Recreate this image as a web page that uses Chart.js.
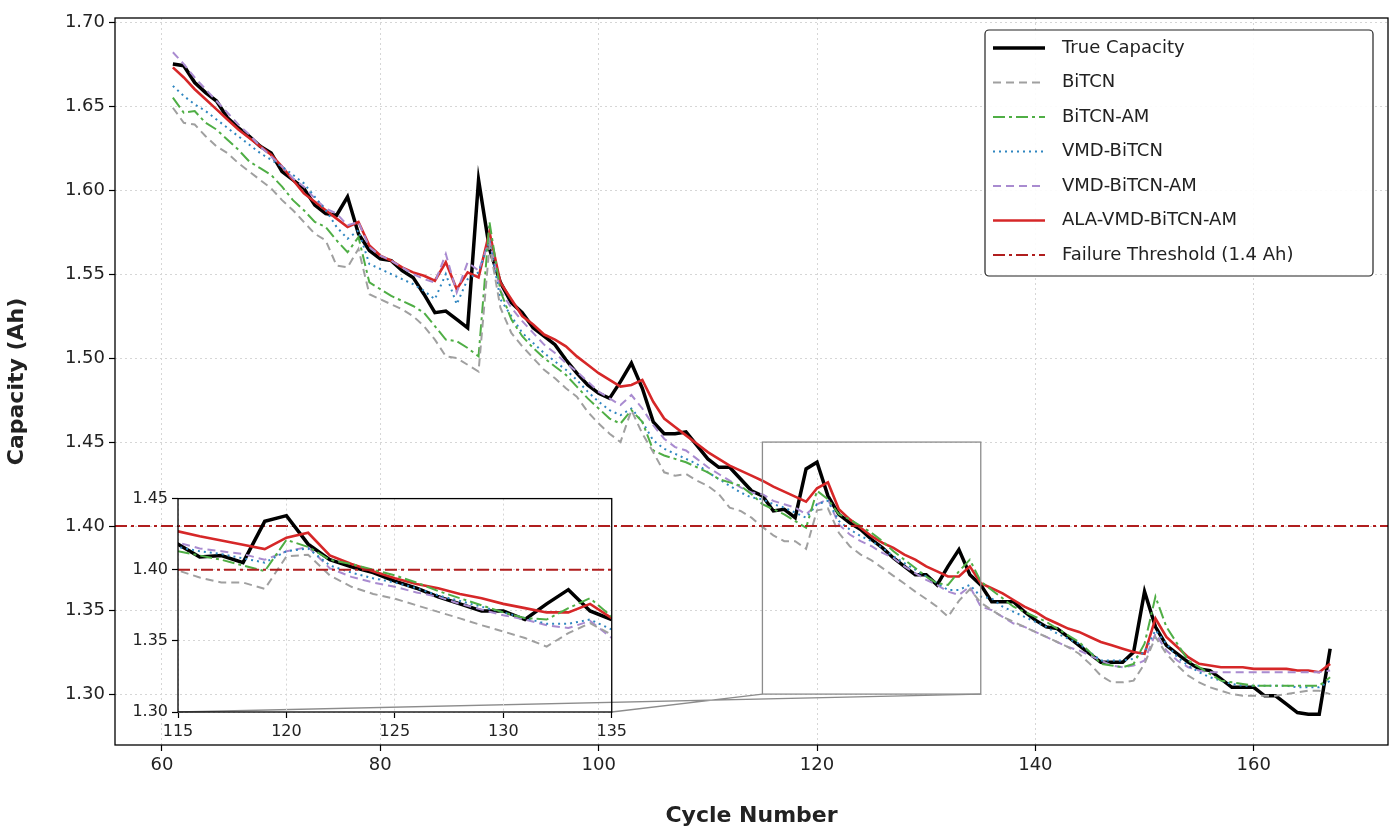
<!DOCTYPE html>
<html>
<head>
<meta charset="utf-8">
<script src="https://cdn.jsdelivr.net/npm/chart.js@4.4.0/dist/chart.umd.min.js"></script>
<style>
  body { margin: 0; background: #fff; }
  #wrap { position: relative; width: 1400px; height: 833px; }
  #mainBox { position: absolute; left: 0; top: 0; width: 1400px; height: 833px; }
  #insetBox { position: absolute; left: 120px; top: 485px; width: 511px; height: 257px; }
</style>
</head>
<body>
<div id="wrap">
  <div id="mainBox"><canvas id="mainChart"></canvas></div>
  <div id="insetBox"><canvas id="insetChart"></canvas></div>
</div>
<script>
// cycle numbers
const cycles = [
  61, 62, 63, 64, 65, 66, 67, 68, 69, 70, 71, 72, 73, 74, 75, 76, 77, 78, 79, 80,
  81, 82, 83, 84, 85, 86, 87, 88, 89, 90, 91, 92, 93, 94, 95, 96, 97, 98, 99, 100,
  101, 102, 103, 104, 105, 106, 107, 108, 109, 110, 111, 112, 113, 114, 115, 116, 117, 118, 119, 120,
  121, 122, 123, 124, 125, 126, 127, 128, 129, 130, 131, 132, 133, 134, 135, 136, 137, 138, 139, 140,
  141, 142, 143, 144, 145, 146, 147, 148, 149, 150, 151, 152, 153, 154, 155, 156, 157, 158, 159, 160,
  161, 162, 163, 164, 165, 166, 167
];

const trueCap = [
  1.675, 1.674, 1.664, 1.658, 1.653, 1.643, 1.637, 1.632, 1.626, 1.622, 1.611, 1.606, 1.601, 1.591, 1.586, 1.585, 1.596, 1.574, 1.564, 1.559,
  1.558, 1.552, 1.548, 1.538, 1.527, 1.528, 1.523, 1.518, 1.606, 1.565, 1.545, 1.533, 1.527, 1.518, 1.513, 1.508, 1.499, 1.491, 1.484, 1.479,
  1.476, 1.486, 1.497, 1.482, 1.462, 1.455, 1.455, 1.456, 1.448, 1.440, 1.435, 1.435, 1.428, 1.421, 1.418, 1.409, 1.410, 1.405, 1.434, 1.438,
  1.418, 1.407, 1.402, 1.398, 1.392, 1.387, 1.381, 1.376, 1.371, 1.371, 1.365, 1.376, 1.386, 1.371, 1.365, 1.355, 1.355, 1.355, 1.349, 1.344,
  1.340, 1.339, 1.334, 1.329, 1.324, 1.319, 1.319, 1.319, 1.325, 1.361, 1.340, 1.329, 1.324, 1.319, 1.315, 1.314, 1.309, 1.304, 1.304, 1.304,
  1.299, 1.299, 1.294, 1.289, 1.288, 1.288, 1.327
];

const bitcn = [
  1.649, 1.640, 1.639, 1.632, 1.626, 1.622, 1.616, 1.611, 1.606, 1.601, 1.594, 1.588, 1.581, 1.574, 1.570, 1.555, 1.554, 1.565, 1.538, 1.535,
  1.532, 1.529, 1.525, 1.519, 1.511, 1.501, 1.500, 1.496, 1.492, 1.567, 1.530, 1.515, 1.507, 1.500, 1.493, 1.488, 1.482, 1.477, 1.468, 1.461,
  1.455, 1.450, 1.469, 1.455, 1.444, 1.432, 1.430, 1.431, 1.427, 1.424, 1.419, 1.411, 1.409, 1.405, 1.3995, 1.3945, 1.391, 1.391, 1.3865, 1.4094,
  1.4105, 1.396, 1.388, 1.383, 1.3796, 1.375, 1.3704, 1.3658, 1.361, 1.3566, 1.352, 1.346, 1.3555, 1.3624, 1.3544, 1.350, 1.346, 1.343, 1.340, 1.337,
  1.334, 1.331, 1.328, 1.324, 1.318, 1.311, 1.307, 1.307, 1.308, 1.318, 1.334, 1.324, 1.317, 1.311, 1.307, 1.304, 1.302, 1.300, 1.299, 1.299,
  1.299, 1.299, 1.300, 1.301, 1.302, 1.302, 1.300
];

const bitcnAm = [
  1.655, 1.646, 1.647, 1.640, 1.636, 1.630, 1.624, 1.617, 1.613, 1.609, 1.602, 1.594, 1.588, 1.581, 1.578, 1.570, 1.563, 1.572, 1.545, 1.541,
  1.537, 1.534, 1.531, 1.527, 1.519, 1.511, 1.510, 1.506, 1.501, 1.581, 1.540, 1.523, 1.513, 1.506, 1.500, 1.495, 1.490, 1.483, 1.476, 1.470,
  1.464, 1.461, 1.469, 1.462, 1.445, 1.442, 1.440, 1.438, 1.435, 1.432, 1.428, 1.426, 1.424, 1.419, 1.413, 1.410, 1.407, 1.403, 1.399, 1.421,
  1.416, 1.407, 1.404, 1.400, 1.396, 1.391, 1.385, 1.380, 1.375, 1.370, 1.366, 1.365, 1.373, 1.380, 1.367, 1.362, 1.357, 1.352, 1.349, 1.346,
  1.343, 1.339, 1.335, 1.331, 1.325, 1.318, 1.317, 1.316, 1.318, 1.330, 1.358, 1.340, 1.330, 1.320, 1.316, 1.312, 1.308, 1.307, 1.306, 1.305,
  1.305, 1.305, 1.305, 1.305, 1.305, 1.305, 1.310
];

const vmdBitcn = [
  1.662, 1.656, 1.651, 1.647, 1.642, 1.637, 1.632, 1.627, 1.622, 1.618, 1.614, 1.609, 1.604, 1.596, 1.588, 1.578, 1.571, 1.576, 1.556, 1.553,
  1.550, 1.547, 1.544, 1.540, 1.535, 1.550, 1.532, 1.547, 1.551, 1.570, 1.535, 1.525, 1.515, 1.509, 1.503, 1.498, 1.493, 1.487, 1.480, 1.474,
  1.469, 1.466, 1.470, 1.462, 1.451, 1.446, 1.443, 1.440, 1.437, 1.432, 1.428, 1.424, 1.420, 1.417, 1.416, 1.413, 1.411, 1.408, 1.405, 1.413,
  1.415, 1.403, 1.398, 1.394, 1.391, 1.387, 1.382, 1.378, 1.374, 1.370, 1.366, 1.362, 1.362, 1.365, 1.358, 1.357, 1.352, 1.349, 1.346, 1.343,
  1.340, 1.336, 1.333, 1.330, 1.325, 1.320, 1.320, 1.320, 1.321, 1.325, 1.338, 1.330, 1.322, 1.317, 1.313, 1.310, 1.308, 1.306, 1.305, 1.305,
  1.305, 1.305, 1.305, 1.304, 1.304, 1.304, 1.308
];

const vmdBitcnAm = [
  1.682, 1.675, 1.667, 1.660, 1.653, 1.646, 1.639, 1.633, 1.626, 1.620, 1.614, 1.607, 1.602, 1.595, 1.589, 1.586, 1.579, 1.581, 1.566, 1.561,
  1.558, 1.554, 1.550, 1.547, 1.545, 1.562, 1.539, 1.557, 1.552, 1.570, 1.540, 1.530, 1.522, 1.515, 1.508, 1.503, 1.497, 1.492, 1.486, 1.480,
  1.476, 1.472, 1.478, 1.470, 1.460, 1.452, 1.447, 1.445, 1.440, 1.435, 1.431, 1.427, 1.423, 1.420, 1.419, 1.415, 1.413, 1.411, 1.407, 1.413,
  1.416, 1.401, 1.395, 1.391, 1.388, 1.384, 1.381, 1.376, 1.372, 1.368, 1.365, 1.361, 1.359, 1.364, 1.352, 1.350, 1.346, 1.342, 1.340, 1.337,
  1.334, 1.331, 1.328, 1.326, 1.323, 1.320, 1.317, 1.316, 1.317, 1.320, 1.336, 1.326, 1.320, 1.316, 1.314, 1.313, 1.313, 1.313, 1.313, 1.313,
  1.313, 1.313, 1.313, 1.313, 1.313, 1.313, 1.314
];

const alaVmd = [
  1.673, 1.667, 1.660, 1.654, 1.648, 1.642, 1.636, 1.631, 1.626, 1.621, 1.614, 1.606, 1.598, 1.593, 1.588, 1.583, 1.578, 1.581, 1.567, 1.561,
  1.558, 1.554, 1.551, 1.549, 1.546, 1.557, 1.541, 1.551, 1.548, 1.575, 1.545, 1.535, 1.525, 1.520, 1.514, 1.511, 1.507, 1.501, 1.496, 1.491,
  1.487, 1.483, 1.484, 1.487, 1.474, 1.464, 1.459, 1.454, 1.449, 1.444, 1.440, 1.436, 1.433, 1.430, 1.427, 1.4235, 1.4205, 1.4175, 1.4145, 1.4225,
  1.426, 1.410, 1.404, 1.399, 1.394, 1.390, 1.387, 1.383, 1.380, 1.376, 1.373, 1.370, 1.370, 1.376, 1.366, 1.363, 1.360, 1.356, 1.352, 1.349,
  1.345, 1.342, 1.339, 1.337, 1.334, 1.331, 1.329, 1.327, 1.325, 1.324, 1.345, 1.334, 1.328, 1.322, 1.318, 1.317, 1.316, 1.316, 1.316, 1.315,
  1.315, 1.315, 1.315, 1.314, 1.314, 1.313, 1.318
];

const threshold = 1.4;
const xTicksMain = [60, 80, 100, 120, 140, 160];
const yTicksMain = [1.30, 1.35, 1.40, 1.45, 1.50, 1.55, 1.60, 1.65, 1.70];
const xTicksInset = [115, 120, 125, 130, 135];
const yTicksInset = [1.30, 1.35, 1.40, 1.45];
const zoomBox = { x0: 115, x1: 135, y0: 1.30, y1: 1.45 };

const FONT = "'DejaVu Sans', sans-serif";

const seriesDefs = [
  { label: 'True Capacity', data: trueCap, color: '#000000', width: 3.5, dash: [] },
  { label: 'BiTCN', data: bitcn, color: '#a0a0a0', width: 2, dash: [8, 5] },
  { label: 'BiTCN-AM', data: bitcnAm, color: '#4fae45', width: 2, dash: [12, 4, 3, 4] },
  { label: 'VMD-BiTCN', data: vmdBitcn, color: '#2f86c0', width: 2, dash: [2, 4] },
  { label: 'VMD-BiTCN-AM', data: vmdBitcnAm, color: '#a98bd0', width: 2, dash: [8, 5] },
  { label: 'ALA-VMD-BiTCN-AM', data: alaVmd, color: '#d62728', width: 2.6, dash: [] }
];
const threshDef = { label: 'Failure Threshold (1.4 Ah)', color: '#b01e1e', width: 2, dash: [12, 4, 3, 4] };

function buildDatasets(xMin, xMax) {
  // draw order: the black true capacity line on top
  const order = [1, 2, 3, 4, 5, 0];
  const sets = order.map(i => {
    const s = seriesDefs[i];
    return {
      label: s.label,
      data: cycles.map((c, k) => ({ x: c, y: s.data[k] })),
      borderColor: s.color,
      borderWidth: s.width,
      borderDash: s.dash,
      pointRadius: 0,
      tension: 0,
      fill: false
    };
  });
  sets.unshift({
    label: threshDef.label,
    data: [{ x: xMin, y: threshold }, { x: xMax, y: threshold }],
    borderColor: threshDef.color,
    borderWidth: threshDef.width,
    borderDash: threshDef.dash,
    pointRadius: 0,
    fill: false
  });
  return sets;
}

function axisOpts(min, max, ticks, fmt, size, fit, fitSize) {
  return {
    type: 'linear',
    min: min,
    max: max,
    afterBuildTicks: s => { s.ticks = ticks.map(v => ({ value: v })); },
    afterFit: s => { s[fit] = fitSize; },
    ticks: { color: '#222', font: { family: FONT, size: size }, callback: fmt, padding: 4, autoSkip: false, maxRotation: 0 },
    grid: { color: '#d6d6d6', lineWidth: 1, tickColor: '#000', tickLength: 6, tickWidth: 1.2 },
    border: { display: false, dash: [2, 3] }
  };
}

// frame around the plot area
const framePlugin = {
  id: 'frame',
  afterDatasetsDraw(chart) {
    const a = chart.chartArea, ctx = chart.ctx;
    ctx.save();
    ctx.strokeStyle = '#000';
    ctx.lineWidth = 1.3;
    ctx.setLineDash([]);
    ctx.strokeRect(a.left, a.top, a.right - a.left, a.bottom - a.top);
    ctx.restore();
  }
};

let insetChart;

const insetCtx = document.getElementById('insetChart').getContext('2d');
insetChart = new Chart(insetCtx, {
  type: 'line',
  data: { datasets: buildDatasets(zoomBox.x0, zoomBox.x1) },
  options: {
    responsive: true,
    maintainAspectRatio: false,
    animation: false,
    layout: { padding: { top: 8, right: 8, left: 0, bottom: 0 } },
    plugins: { legend: { display: false }, tooltip: { enabled: false } },
    scales: {
      x: axisOpts(zoomBox.x0, zoomBox.x1, xTicksInset, v => v, 16, 'height', 30),
      y: axisOpts(zoomBox.y0, zoomBox.y1, yTicksInset, v => v.toFixed(2), 16, 'width', 58)
    }
  },
  plugins: [framePlugin]
});

// zoom box, connector lines and legend on the main chart
const mainExtras = {
  id: 'mainExtras',
  afterDraw(chart) {
    const ctx = chart.ctx;
    const xs = chart.scales.x, ys = chart.scales.y;
    const bx0 = xs.getPixelForValue(zoomBox.x0), bx1 = xs.getPixelForValue(zoomBox.x1);
    const by0 = ys.getPixelForValue(zoomBox.y0), by1 = ys.getPixelForValue(zoomBox.y1);
    ctx.save();
    ctx.strokeStyle = '#8c8c8c';
    ctx.lineWidth = 1.3;
    ctx.setLineDash([]);
    ctx.strokeRect(bx0, by1, bx1 - bx0, by0 - by1);
    if (insetChart) {
      const box = document.getElementById('insetBox');
      const ia = insetChart.chartArea;
      const ox = box.offsetLeft, oy = box.offsetTop;
      ctx.beginPath();
      ctx.moveTo(ox + ia.left, oy + ia.bottom);
      ctx.lineTo(bx1, by0);
      ctx.moveTo(ox + ia.right, oy + ia.bottom);
      ctx.lineTo(bx0, by0);
      ctx.stroke();
    }
    ctx.restore();

    // legend
    const lx = 985, ly = 30, lw = 388, lh = 246;
    ctx.save();
    ctx.fillStyle = 'rgba(255,255,255,0.9)';
    ctx.strokeStyle = '#222';
    ctx.lineWidth = 1.2;
    ctx.beginPath();
    ctx.roundRect(lx, ly, lw, lh, 4);
    ctx.fill();
    ctx.stroke();
    const items = seriesDefs.concat([threshDef]);
    ctx.font = '18px ' + FONT;
    ctx.textBaseline = 'middle';
    items.forEach((it, i) => {
      const y = ly + 18 + i * 34.5;
      ctx.strokeStyle = it.color;
      ctx.lineWidth = it.width;
      ctx.setLineDash(it.dash);
      ctx.beginPath();
      ctx.moveTo(lx + 8, y);
      ctx.lineTo(lx + 60, y);
      ctx.stroke();
      ctx.fillStyle = '#222';
      ctx.fillText(it.label, lx + 77, y);
    });
    ctx.restore();
  }
};

const mainCtx = document.getElementById('mainChart').getContext('2d');
const xMinMain = 55.7, xMaxMain = 172.3;
const mainX = axisOpts(xMinMain, xMaxMain, xTicksMain, v => v, 18, 'height', 88);
mainX.title = { display: true, text: 'Cycle Number', color: '#222', font: { family: FONT, size: 22, weight: 'bold' }, padding: { top: 4 } };
const mainY = axisOpts(1.2697, 1.7024, yTicksMain, v => v.toFixed(2), 18, 'width', 115);
mainY.title = { display: true, text: 'Capacity (Ah)', color: '#222', font: { family: FONT, size: 22, weight: 'bold' }, padding: { bottom: 6 } };

new Chart(mainCtx, {
  type: 'line',
  data: { datasets: buildDatasets(xMinMain, xMaxMain) },
  options: {
    responsive: true,
    maintainAspectRatio: false,
    animation: false,
    layout: { padding: { top: 18, right: 12, left: 0, bottom: 0 } },
    plugins: { legend: { display: false }, tooltip: { enabled: false } },
    scales: { x: mainX, y: mainY }
  },
  plugins: [framePlugin, mainExtras]
});
</script>
</body>
</html>
